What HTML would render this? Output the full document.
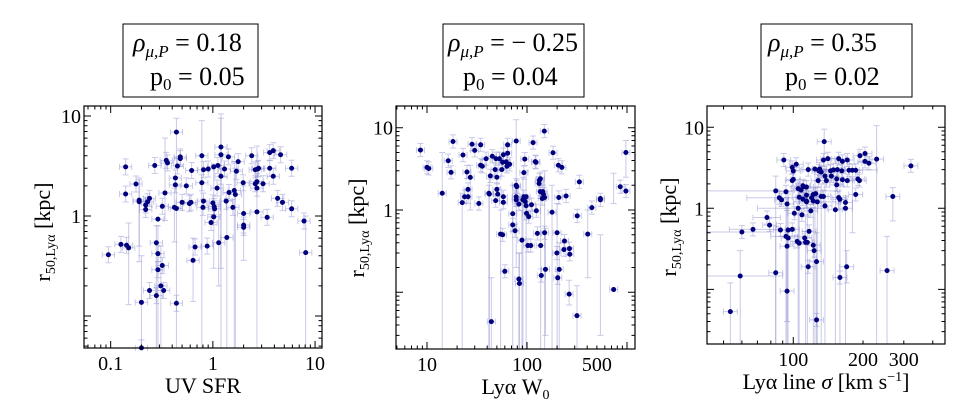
<!DOCTYPE html>
<html><head><meta charset="utf-8">
<style>
html,body{margin:0;padding:0;background:#fff;}
svg, svg text{font-family:"Liberation Serif","DejaVu Serif",serif;}
</style></head>
<body>
<svg id="chart" width="980" height="405" viewBox="0 0 980 405" xmlns="http://www.w3.org/2000/svg" font-family="'Liberation Serif', 'DejaVu Serif', serif">
  <g>
    <rect x="123" y="24" width="135" height="73" fill="#fff" stroke="#000" stroke-width="1"/>
    <text x="133" y="51" font-size="26"><tspan font-style="italic">ρ</tspan><tspan font-size="17" dy="6" font-style="italic">μ,P</tspan><tspan dy="-6"> = 0.18</tspan></text>
    <text x="150" y="85" font-size="26">p<tspan font-size="17" dy="5">0</tspan><tspan dy="-5"> = 0.05</tspan></text>
  </g>
  <g>
    <rect x="443" y="24" width="141" height="73" fill="#fff" stroke="#000" stroke-width="1"/>
    <text x="448" y="51" font-size="26"><tspan font-style="italic">ρ</tspan><tspan font-size="17" dy="6" font-style="italic">μ,P</tspan><tspan dy="-6"> = − 0.25</tspan></text>
    <text x="463" y="85" font-size="26">p<tspan font-size="17" dy="5">0</tspan><tspan dy="-5"> = 0.04</tspan></text>
  </g>
  <g>
    <rect x="761" y="24" width="151" height="73" fill="#fff" stroke="#000" stroke-width="1"/>
    <text x="768" y="51" font-size="26"><tspan font-style="italic">ρ</tspan><tspan font-size="17" dy="6" font-style="italic">μ,P</tspan><tspan dy="-6"> = 0.35</tspan></text>
    <text x="785" y="85" font-size="26">p<tspan font-size="17" dy="5">0</tspan><tspan dy="-5"> = 0.02</tspan></text>
  </g>
</svg>
<script>
// ---------- Panel 1: UV SFR ----------
const sfrX = [0.095,0.126,0.143,0.15,0.14,0.14,0.177,0.19,0.19,0.22,0.22,0.23,0.24,0.27,0.29,0.32,0.34,0.35,0.36,0.44,0.43,0.43,0.42,0.44,0.45,0.48,0.48,0.5,0.55,0.59,0.61,0.62,0.28,0.29,0.29,0.32,0.31,0.33,0.28,0.24,0.2,0.44,0.2,0.64,0.67,0.88,0.78,0.78,0.81,0.81,0.8,0.9,0.96,1.0,1.02,1.02,1.03,1.04,1.1,1.12,1.14,1.2,1.2,1.2,1.3,1.35,1.37,1.42,1.44,1.57,1.62,1.66,1.7,1.77,1.98,2.0,2.0,2.0,2.4,2.6,2.75,2.8,2.6,2.7,2.7,2.7,3.1,3.4,3.6,3.6,3.9,3.9,4.3,4.6,4.8,5.9,5.9,7.8,8.1];
const sfrY = [0.41,0.52,0.51,0.48,1.66,3.1,2.09,1.44,1.39,1.29,1.16,1.39,1.5,3.2,0.93,1.25,1.7,3.6,3.4,6.9,2.4,2.05,1.22,1.19,3.16,3.75,3.9,1.37,2.0,1.33,1.37,2.85,0.54,0.42,0.29,0.32,0.2,0.18,0.16,0.18,0.137,0.134,0.048,0.36,0.49,0.5,4.0,2.15,2.9,1.41,1.22,2.95,0.86,1.35,3.1,0.98,1.24,1.18,1.9,3.2,0.54,2.5,4.1,4.9,2.95,1.41,0.61,3.9,1.72,1.22,1.8,1.64,2.8,3.5,2.15,1.06,0.81,0.77,4.0,2.9,2.95,3.0,2.1,2.2,1.9,1.1,2.1,0.97,3.0,4.3,4.5,2.5,1.5,4.1,1.37,3.0,1.18,0.89,0.43];
// long error bars: [point index, lower value, upper value]
const sfrLong = [[7,0.35,2.4],[40,0.04,0.4],[32,0.04,0.8],[14,0.04,0.8],[36,0.04,0.5],[16,0.9,6.0],[19,3.0,9.5],[23,0.04,2.0],[46,0.04,9.0],[62,0.3,10.5],[63,0.04,9.5],[66,0.04,1.5],[71,0.04,3.0],[70,0.04,3.5],[85,0.04,5.0],[98,0.04,1.0],[22,0.55,1.9],[8,0.5,2.3],[3,0.13,0.85],[43,0.14,0.6],[75,0.36,2.0],[54,0.3,3.3],[60,0.2,1.3]];
const sfrTicksX = [0.1,1,10];
const sfrTickLabelsX = ['0.1','1','10'];

// ---------- Panel 2: Lya W0 ----------
const w0X = [8.6,10,10.4,14.2,16.3,17.4,18.2,22.5,22.9,23.8,25.1,25.7,25.7,27.1,28.2,30,33,34.4,34.4,35.7,39,41.6,42,43,45,44,48,49,48.6,50,50,51,53,54.5,57,56,57,58,58,58,60,62,63,64,64,67,72,72,76,78,78,79,78,78,83,84,83,89,91,93,93,95,96,98,98,99,102,104,109,111,115,121,123,124,127,132,133,136,136,137,139,142,144,146,149,150,150,153,178,182,199,200,203,206,208,210,223,234,237,246,264,266,268,316,318,334,405,445,542,542,735,856,975,975];
const w0Y = [5.35,3.3,3.2,1.6,3.97,2.87,6.8,1.23,4.66,1.45,2.9,1.78,1.45,2.49,6.3,5.3,1.2,6.2,3.5,3.4,4.2,1.6,1.56,2.6,4.5,0.044,3.1,4.2,1.3,2.5,1.78,1.56,4.2,0.51,0.5,3.1,3.8,4.7,1.24,1.45,0.18,3.85,3.4,4.9,6.2,3.6,0.9,0.66,0.56,6.9,2.0,1.92,1.45,1.33,0.145,0.128,1.18,0.43,1.33,2.85,1.45,4.16,1.27,1.45,1.13,0.91,0.37,0.83,0.37,1.16,6.6,3.87,3.8,0.98,0.52,2.1,2.3,2.4,1.67,0.37,0.16,1.38,1.67,1.56,9.1,1.42,0.53,0.19,0.94,4.97,0.3,0.53,0.15,3.5,1.42,0.19,3.3,0.33,0.42,1.48,0.095,0.34,0.29,0.052,0.85,2.2,0.51,1.07,1.33,1.38,0.108,1.92,5.0,1.7];
const w0Long = [[3,0.02,5.0],[7,0.02,1.6],[22,0.02,2.4],[25,0.02,0.15],[21,0.02,2.0],[33,0.02,1.0],[46,0.02,2.0],[49,0.2,12.5],[54,0.02,0.3],[55,0.02,0.3],[57,0.02,1.0],[58,0.02,2.5],[63,0.02,3.0],[79,0.02,1.5],[85,0.02,3.0],[87,0.03,0.6],[88,0.02,2.0],[91,0.02,1.2],[95,0.02,0.4],[103,0.02,0.12],[106,0.15,1.0],[109,0.03,0.5],[110,1.2,2.8],[112,2.5,7.0],[100,0.07,0.14],[13,1.0,3.5]];
const w0TicksX = [10,100,500];
const w0TickLabelsX = ['10','100','500'];

// ---------- Panel 3: Lya line sigma ----------
const sigX = [53.5,59,60,67,77,79,84,84,88,87,89,91,93,93,95,94,94,94,95,99,99,100,99,100,101,103,104,105,105,106,108,106,109,110,110,111,112,113,114,114,114,114,115,116,117,116,119,120,122,122,122,123,124,126,126,125,127,128,129,130,132,132,135,135,136,137,137,139,141,145,146,149,152,154,154,155,157,157,159,159,162,163,163,168,168,170,171,171,174,180,186,186,190,193,194,204,204,212,229,254,269,322];
const sigY = [0.053,0.146,0.51,0.55,0.77,0.62,0.16,1.64,0.54,1.35,1.27,3.95,1.6,0.45,0.43,0.34,0.095,1.13,0.54,0.55,3.2,2.9,2.2,2.27,0.87,3.5,0.39,1.0,1.75,1.37,1.68,0.37,0.83,1.9,1.3,1.85,0.43,0.38,1.83,1.23,1.2,1.45,0.38,3.0,0.52,0.19,0.93,1.35,1.23,1.48,0.35,0.3,3.06,0.22,0.042,1.52,1.2,2.2,2.9,3.06,2.8,1.4,1.4,3.95,6.65,1.07,2.5,2.2,4.1,2.9,2.5,2.98,0.96,1.95,2.3,3.0,4.1,1.36,1.29,0.14,2.9,2.25,3.8,1.18,1.0,0.19,3.95,2.2,2.95,2.95,1.48,2.95,2.3,2.2,4.45,4.75,3.8,3.6,4.05,0.17,1.4,3.34];
const sigLong = [[0,0.02,0.12],[1,0.02,0.3],[6,0.02,0.6],[7,0.02,2.5],[13,0.02,1.2],[15,0.02,1.0],[16,0.04,0.5],[18,0.02,1.5],[27,0.02,2.0],[31,0.02,1.0],[37,0.02,0.8],[42,0.02,1.5],[50,0.02,1.0],[52,0.02,3.0],[53,0.02,0.5],[56,0.02,1.8],[61,0.02,2.0],[65,0.02,2.0],[72,0.02,2.5],[78,0.02,2.0],[84,0.02,1.3],[98,0.02,10.5],[99,0.02,0.45],[64,3.0,9.5],[89,0.5,3.5],[100,0.7,1.8],[85,0.12,0.3]];
// long horizontal error bars: [point index, lower x, upper x]
const sigLongX = [[7,40,155],[2,40,80],[1,40,90],[3,53,86],[4,67,88],[27,70,140],[13,80,110],[9,63,110],[71,110,230],[56,100,160]];
const sigTicksX = [100,200,300];
const sigTickLabelsX = ['100','200','300'];

const yTicksMajor = [1,10];
const yTickLabels = ['1','10'];

const NS = 'http://www.w3.org/2000/svg';
const FONT = "'Liberation Serif', 'DejaVu Serif', serif";
const svg = document.getElementById('chart');
function mk(tag, attrs, parent){ const e=document.createElementNS(NS,tag); for(const k in attrs) e.setAttribute(k,attrs[k]); (parent||svg).appendChild(e); return e; }

function panel(cfg){
  const g = mk('g',{'font-family':FONT});
  
  
  const sx = v => cfg.left + (Math.log10(v)-cfg.xmin)/(cfg.xmax-cfg.xmin)*(cfg.right-cfg.left);
  const sy = v => cfg.bottom - (Math.log10(v)-cfg.ymin)/(cfg.ymax-cfg.ymin)*(cfg.bottom-cfg.top);
  const clampY = y => Math.max(cfg.top, Math.min(cfg.bottom, y));
  const clampX = x => Math.max(cfg.left, Math.min(cfg.right, x));
  const eg = mk('g',{stroke:'#8888cc','stroke-opacity':'0.45','stroke-width':'1',fill:'none'},g);
  
  
  const lo = {}, hi = {}, lox = {}, hix = {};
  cfg.longY.forEach(a=>{lo[a[0]]=a[1];hi[a[0]]=a[2];});
  (cfg.longX||[]).forEach(a=>{lox[a[0]]=a[1];hix[a[0]]=a[2];});
  cfg.xs.forEach((xv,i)=>{
    const yv = cfg.ys[i];
    const px = sx(xv), py = sy(yv);
    const yl = lo[i]!==undefined ? lo[i] : yv/Math.pow(10,cfg.dy);
    const yh = hi[i]!==undefined ? hi[i] : yv*Math.pow(10,cfg.dy);
    const xl = lox[i]!==undefined ? lox[i] : xv/Math.pow(10,cfg.dx);
    const xh = hix[i]!==undefined ? hix[i] : xv*Math.pow(10,cfg.dx);
    const y1 = clampY(sy(yh)), y2 = clampY(sy(yl));
    const x1 = clampX(sx(xl)), x2 = clampX(sx(xh));
    mk('path',{d:`M${px},${y1}V${y2}M${x1},${py}H${x2}`+
      (y1>cfg.top?`M${px-3},${y1}H${px+3}`:'')+(y2<cfg.bottom?`M${px-3},${y2}H${px+3}`:'')+
      (x1>cfg.left?`M${x1},${py-3}V${py+3}`:'')+(x2<cfg.right?`M${x2},${py-3}V${py+3}`:'')},eg);
  });
  const pg = mk('g',{fill:'#00007f'},g);
  
  
  cfg.xs.forEach((xv,i)=>{
    const c = mk('circle',{cx:sx(xv),cy:sy(cfg.ys[i]),r:2.5},pg);
    
    
  });
  const fr = mk('rect',{x:cfg.left,y:cfg.top,width:cfg.right-cfg.left,height:cfg.bottom-cfg.top,fill:'none',stroke:'#000','stroke-width':'1.2'},g);
  
  
  const tg = mk('g',{stroke:'#000','stroke-width':'1'},g);
  
  
  let d='';
  for(let e=-3;e<=3;e++) for(let m=1;m<10;m++){
    const v=m*Math.pow(10,e), lv=Math.log10(v), len = m===1?7:3.5;
    if(lv>cfg.ymin && lv<cfg.ymax){ const y=sy(v); d+=`M${cfg.left},${y}h${len}M${cfg.right},${y}h${-len}`; }
    if(lv>cfg.xmin && lv<cfg.xmax){ const x=sx(v); d+=`M${x},${cfg.bottom}v${-len}M${x},${cfg.top}v${len}`; }
  }
  mk('path',{d:d},tg);
  const xl = mk('g',{'font-size':'20','text-anchor':'middle','font-family':FONT},g);
  
  
  cfg.ticksX.forEach((v,i)=>{ const t=mk('text',{x:sx(v),y:cfg.bottom+22,'font-family':FONT},xl); t.textContent=cfg.tickLabelsX[i]; });
  const yl2 = mk('g',{'font-size':'20','text-anchor':'end','font-family':FONT},g);
  
  
  yTicksMajor.forEach((v,i)=>{ const t=mk('text',{x:cfg.left-3,y:sy(v)+7,'font-family':FONT},yl2); t.textContent=yTickLabels[i]; });
  const xt = mk('text',{x:(cfg.left+cfg.right)/2,y:cfg.bottom+45,'font-size':'22','text-anchor':'middle','font-family':FONT},g);
  
  
  xt.innerHTML = cfg.xTitle;
  const yt = mk('text',{x:0,y:0,'font-size':'22','text-anchor':'middle','font-family':FONT,transform:`translate(${cfg.yTitleX},${cfg.yTitleY}) rotate(-90)`},g);
  
  
  yt.innerHTML = 'r<tspan font-size="14" dy="5">50,Lyα</tspan><tspan dy="-5"> [kpc]</tspan>';
}

panel({name:'panel-uv-sfr',left:84,right:322,top:106,bottom:348,xmin:-1.261,xmax:1.068,ymin:-1.32,ymax:1.1,
  xs:sfrX,ys:sfrY,longY:sfrLong,dx:0.06,dy:0.08,ticksX:sfrTicksX,tickLabelsX:sfrTickLabelsX,
  xTitle:'UV SFR',yTitleX:50,yTitleY:232});
panel({name:'panel-lya-w0',left:396,right:635,top:106,bottom:349,xmin:0.69,xmax:3.08,ymin:-1.689,ymax:1.264,
  xs:w0X,ys:w0Y,longY:w0Long,dx:0.04,dy:0.08,ticksX:w0TicksX,tickLabelsX:w0TickLabelsX,
  xTitle:'Lyα W<tspan font-size="14" dy="5">0</tspan>',yTitleX:364,yTitleY:228});
panel({name:'panel-lya-sigma',left:707,right:945,top:106,bottom:344,xmin:1.6275,xmax:2.655,ymin:-1.675,ymax:1.263,
  xs:sigX,ys:sigY,longY:sigLong,longX:sigLongX,dx:0.03,dy:0.08,ticksX:sigTicksX,tickLabelsX:sigTickLabelsX,
  xTitle:'Lyα line <tspan font-style="italic">σ</tspan> [km s<tspan font-size="14" dy="-8">−1</tspan><tspan dy="8">]</tspan>',yTitleX:676,yTitleY:227});
</script>
</body></html>
